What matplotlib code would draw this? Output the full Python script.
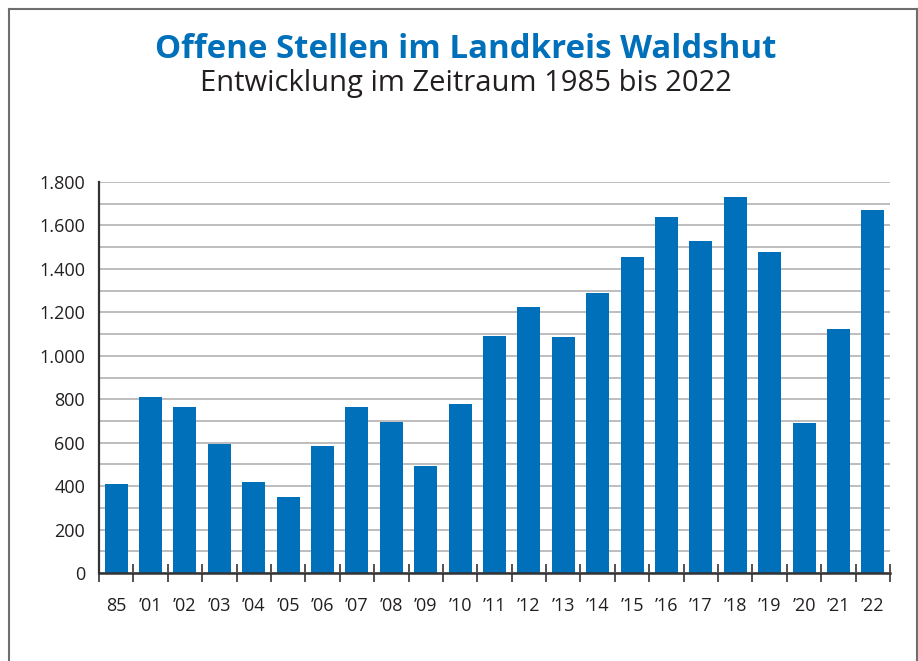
import matplotlib
matplotlib.use("Agg")
import matplotlib.pyplot as plt
from matplotlib.ticker import FixedLocator, MultipleLocator

categories = ["85", "’01", "’02", "’03", "’04", "’05", "’06", "’07", "’08", "’09",
              "’10", "’11", "’12", "’13", "’14", "’15", "’16", "’17", "’18", "’19",
              "’20", "’21", "’22"]
values = [410, 810, 764, 594, 420, 350, 585, 764, 695, 493,
          778, 1091, 1225, 1087, 1289, 1455, 1639, 1529, 1731, 1478,
          691, 1123, 1671]
ytick_values = [0, 200, 400, 600, 800, 1000, 1200, 1400, 1600, 1800]
ytick_labels = ["0", "200", "400", "600", "800", "1.000", "1.200", "1.400", "1.600", "1.800"]

title = "Offene Stellen im Landkreis Waldshut"
subtitle = "Entwicklung im Zeitraum 1985 bis 2022"

plt.rcParams['font.family'] = ['Open Sans', 'DejaVu Sans']
blue = "#0070BA"
text_col = "#231F20"

fig = plt.figure(figsize=(9.18, 6.61), dpi=100)
ax = fig.add_axes([99/918, 1 - 573/661, (890 - 99)/918, (573 - 182)/661])

x = list(range(len(categories)))
ax.bar(x, values, width=0.67, color=blue, zorder=3)

ax.set_xlim(-0.5, len(categories) - 0.5)
ax.set_ylim(0, 1800)

ax.yaxis.set_minor_locator(MultipleLocator(100))
ax.set_yticks(ytick_values)
ax.set_yticklabels(ytick_labels)
ax.grid(axis='y', which='both', color='#BDBDBD', linewidth=1.4, zorder=0)
ax.tick_params(axis='y', which='both', length=0, labelsize=13, colors=text_col, pad=10)

ax.set_xticks(x)
ax.set_xticklabels(categories)
ax.xaxis.set_minor_locator(FixedLocator([i - 0.5 for i in range(len(categories) + 1)]))
ax.tick_params(axis='x', which='major', length=0, labelsize=13, colors=text_col, pad=17)
ax.tick_params(axis='x', which='minor', direction='inout', length=13, width=1.2, color='#333333')

for s in ['top', 'right']:
    ax.spines[s].set_visible(False)
ax.spines['left'].set_color('#333333')
ax.spines['left'].set_linewidth(1.6)
ax.spines['bottom'].set_color('#333333')
ax.spines['bottom'].set_linewidth(1.8)
ax.spines['bottom'].set_zorder(4)

fig.text(466/918, 1 - 49/661, title, ha='center', va='center', fontsize=23.8,
         fontweight='bold', color=blue)
fig.text(466/918, 1 - 83/661, subtitle, ha='center', va='center', fontsize=21,
         color=text_col)

# outer frame (left, top, right)
frame_col = '#6E6E6E'
fig.add_artist(plt.Line2D([9/918, 9/918], [0, 1 - 9/661], transform=fig.transFigure, color=frame_col, lw=1.5))
fig.add_artist(plt.Line2D([9/918, 1], [1 - 9/661, 1 - 9/661], transform=fig.transFigure, color=frame_col, lw=1.5))
fig.add_artist(plt.Line2D([916.5/918, 916.5/918], [0, 1 - 9/661], transform=fig.transFigure, color=frame_col, lw=1.5))

fig.savefig("out.png", dpi=100)
